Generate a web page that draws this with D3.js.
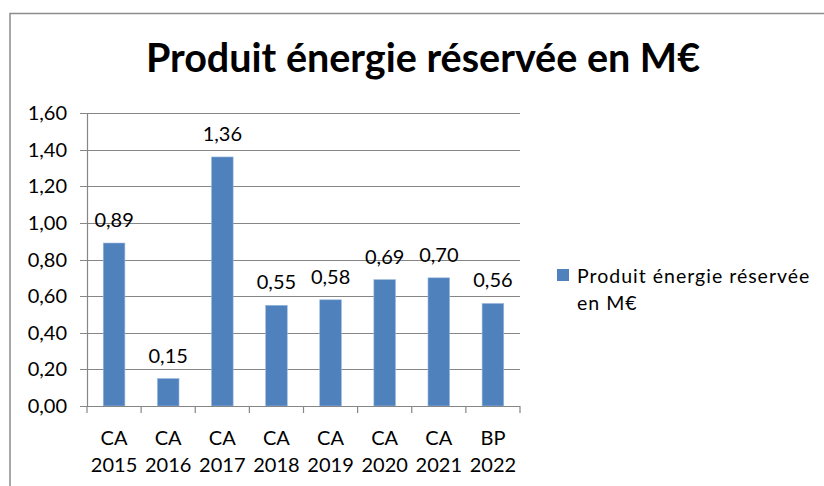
<!DOCTYPE html>
<html>
<head>
<meta charset="utf-8">
<script src="https://cdn.jsdelivr.net/npm/d3@7"></script>
<style>
  body { margin: 0; background: #fff; }
  svg text { font-family: Lato, "Open Sans", sans-serif; fill: #000; }
</style>
</head>
<body>
<svg id="chart" width="824" height="486"></svg>
<script>
// Data
const categories = ["CA 2015", "CA 2016", "CA 2017", "CA 2018", "CA 2019", "CA 2020", "CA 2021", "BP 2022"];
const values = [0.89, 0.15, 1.36, 0.55, 0.58, 0.69, 0.70, 0.56];
const yTicks = [0, 0.2, 0.4, 0.6, 0.8, 1.0, 1.2, 1.4, 1.6];
const seriesName = "Produit énergie réservée en M€";

const svg = d3.select("#chart");
const fmt = v => d3.format(".2f")(v).replace(".", ",");

// chart frame (cut off at right/bottom)
svg.append("path")
	.attr("d", "M10,600 V13.5 H830")
	.attr("fill", "none")
	.attr("stroke", "#8c8c8c")
	.attr("stroke-width", 1.5);

svg.append("text")
	.attr("x", 423)
	.attr("y", 72)
	.attr("text-anchor", "middle")
	.style("font-weight", "bold")
	.style("font-size", "39.5px")
	.text(seriesName);

const xCat = d3.scaleBand().domain(categories).range([87, 520]);

const y = d3.scaleLinear()
	.domain([0, 1.6])
	.range([406, 113]);

// gridlines
svg.append("g")
	.selectAll("line")
	.data(yTicks)
	.enter()
	.append("line")
		.attr("x1", 80)
		.attr("x2", 520)
		.attr("y1", d => Math.round(y(d)) + 0.5)
		.attr("y2", d => Math.round(y(d)) + 0.5)
		.attr("stroke", "#868686")
		.attr("stroke-width", 1.2);

// y labels
svg.append("g")
	.selectAll("text")
	.data(yTicks)
	.enter()
	.append("text")
		.attr("x", 67)
		.attr("y", d => y(d) + 7)
		.attr("text-anchor", "end")
		.style("font-size", "20px")
		.text(fmt);

// y axis line
svg.append("line")
	.attr("x1", 87.5).attr("x2", 87.5)
	.attr("y1", 113).attr("y2", 406)
	.attr("stroke", "#868686")
	.attr("stroke-width", 1.2);

// bars
svg.append("g")
	.selectAll("rect")
	.data(values)
	.enter()
	.append("rect")
		.attr("x", (d, i) => xCat(categories[i]) + xCat.bandwidth() * 0.3)
		.attr("width", xCat.bandwidth() * 0.4)
		.attr("y", d => y(d))
		.attr("height", d => y(0) - y(d))
		.attr("fill", "#4f81bd")
		.attr("stroke", "#9dbbe0")
		.attr("stroke-width", 0.6);

// value labels
svg.append("g")
	.selectAll("text")
	.data(values)
	.enter()
	.append("text")
		.attr("x", (d, i) => xCat(categories[i]) + xCat.bandwidth() / 2)
		.attr("y", d => y(d) - 16)
		.attr("text-anchor", "middle")
		.style("font-size", "20px")
		.text(fmt);

// x axis and ticks
const xAxis = svg.append("g");
xAxis.append("line")
	.attr("x1", 87).attr("x2", 520)
	.attr("y1", 406.5).attr("y2", 406.5)
	.attr("stroke", "#868686")
	.attr("stroke-width", 1.2);
xAxis.selectAll(".tick")
	.data(categories.concat([null]))
	.enter()
	.append("line")
		.attr("x1", (d, i) => i < categories.length ? xCat(d) : 520)
		.attr("x2", (d, i) => i < categories.length ? xCat(d) : 520)
		.attr("y1", 406)
		.attr("y2", 413)
		.attr("stroke", "#868686")
		.attr("stroke-width", 1.2);

// category labels (two lines)
const catLabel = svg.append("g")
	.selectAll("text")
	.data(categories)
	.enter()
	.append("text")
		.attr("text-anchor", "middle")
		.style("font-size", "20px");
catLabel.append("tspan")
	.attr("x", d => xCat(d) + xCat.bandwidth() / 2)
	.attr("y", 445)
	.text(d => d.split(" ")[0]);
catLabel.append("tspan")
	.attr("x", d => xCat(d) + xCat.bandwidth() / 2)
	.attr("y", 472)
	.text(d => d.split(" ")[1]);

// legend
const legend = svg.append("g");
legend.append("rect")
	.attr("x", 557).attr("y", 269)
	.attr("width", 12).attr("height", 12)
	.attr("fill", "#4f81bd");
legend.append("text")
	.attr("x", 577).attr("y", 283)
	.style("font-size", "19.5px")
	.style("letter-spacing", "1px")
	.text("Produit énergie réservée");
legend.append("text")
	.attr("x", 577).attr("y", 310)
	.style("font-size", "19.5px")
	.style("letter-spacing", "1px")
	.text("en M€");
</script>
</body>
</html>
